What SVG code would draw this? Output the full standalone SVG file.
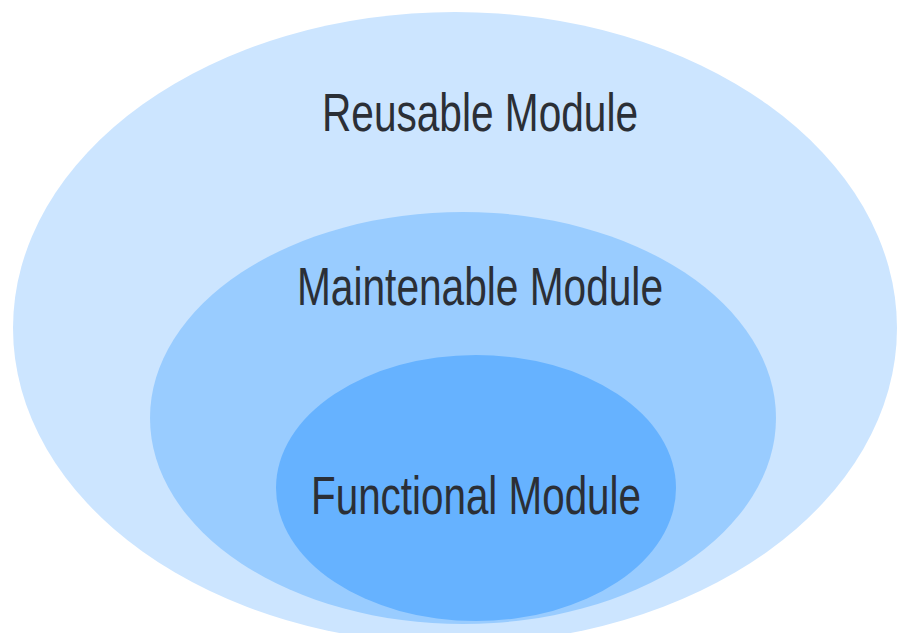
<svg xmlns="http://www.w3.org/2000/svg" width="898" height="633" viewBox="0 0 898 633">
  <style>
    .label { font-family: "Liberation Sans", Arial, sans-serif; font-size: 54px; fill: #2b2f36; }
  </style>
  <rect width="898" height="633" fill="#ffffff"/>
  <g id="reusable">
    <ellipse cx="455" cy="328" rx="442" ry="316" fill="#cce5ff"/>
    <text class="label" x="322" y="131" textLength="316" lengthAdjust="spacingAndGlyphs">Reusable Module</text>
  </g>
  <g id="maintenable">
    <ellipse cx="463" cy="418" rx="313" ry="206" fill="#99ccff"/>
    <text class="label" x="297" y="305" textLength="366" lengthAdjust="spacingAndGlyphs">Maintenable Module</text>
  </g>
  <g id="functional">
    <ellipse cx="476" cy="488" rx="200" ry="133" fill="#66b2ff"/>
    <text class="label" x="311" y="514" textLength="330" lengthAdjust="spacingAndGlyphs">Functional Module</text>
  </g>
  <g id="connectors"/>
</svg>
